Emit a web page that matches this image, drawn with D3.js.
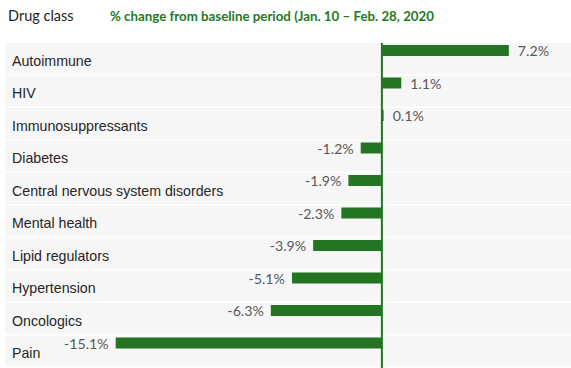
<!DOCTYPE html>
<html><head><meta charset="utf-8">
<script src="https://cdn.jsdelivr.net/npm/d3@7"></script>
<style>html,body{margin:0;padding:0;background:#fff;}svg{display:block;}</style>
</head><body>
<svg id="c" width="571" height="368"></svg>
<script>
const categories = ["Autoimmune","HIV","Immunosuppressants","Diabetes","Central nervous system disorders","Mental health","Lipid regulators","Hypertension","Oncologics","Pain"];
const values = [7.2, 1.1, 0.1, -1.2, -1.9, -2.3, -3.9, -5.1, -6.3, -15.1];
const valueLabels = ["7.2%","1.1%","0.1%","-1.2%","-1.9%","-2.3%","-3.9%","-5.1%","-6.3%","-15.1%"];
const headerLabel = "Drug class";
const titleText = "% change from baseline period (Jan. 10 \u2013 Feb. 28, 2020";

const green = "#237523";
const svg = d3.select("#c");
const W = 571, H = 368;

const x = d3.scaleLinear().domain([-16, 10]).range([99.8, 558.2]);
const y = d3.scaleBand().domain(categories).range([43, 368]).paddingInner(0);
const step = y.step();

svg.append("text").attr("x", 8).attr("y", 21)
  .attr("font-family", "Lato, sans-serif").attr("font-size", 14.5)
  .attr("fill", "#222").text(headerLabel);
svg.append("text").attr("x", 110).attr("y", 21)
  .attr("font-family", "Lato, sans-serif").attr("font-weight", "bold").attr("font-size", 14)
  .attr("fill", "#1e7a1e").attr("textLength", 324).attr("lengthAdjust", "spacingAndGlyphs")
  .text(titleText);

const rows = svg.append("g").selectAll("g").data(categories).join("g")
  .attr("transform", d => `translate(0,${y(d)})`);
rows.append("rect").attr("x", 5).attr("y", 0).attr("width", W - 5).attr("height", step - 1.5)
  .attr("fill", "#f6f6f6");
rows.append("text").attr("x", 12).attr("y", 22.5)
  .attr("font-family", "Liberation Sans, Arial, sans-serif").attr("font-size", 14.2)
  .attr("fill", "#262626").text(d => d);

const data = categories.map((c, i) => ({c, v: values[i], l: valueLabels[i]}));
svg.append("g").selectAll("rect").data(data).join("rect")
  .attr("x", d => Math.min(x(0), x(d.v)))
  .attr("y", d => y(d.c) + 2)
  .attr("width", d => Math.abs(x(d.v) - x(0)))
  .attr("height", 11)
  .attr("fill", green);

svg.append("g").selectAll("text").data(data).join("text")
  .attr("x", d => d.v >= 0 ? x(d.v) + 9 : x(d.v) - 7)
  .attr("y", d => y(d.c) + 13)
  .attr("text-anchor", d => d.v >= 0 ? "start" : "end")
  .attr("font-family", "Lato, sans-serif").attr("font-size", 14.2)
  .attr("fill", "#595959").text(d => d.l);

svg.append("line").attr("x1", x(0)).attr("x2", x(0)).attr("y1", 43).attr("y2", H)
  .attr("stroke", green).attr("stroke-width", 2);
</script>
</body></html>
